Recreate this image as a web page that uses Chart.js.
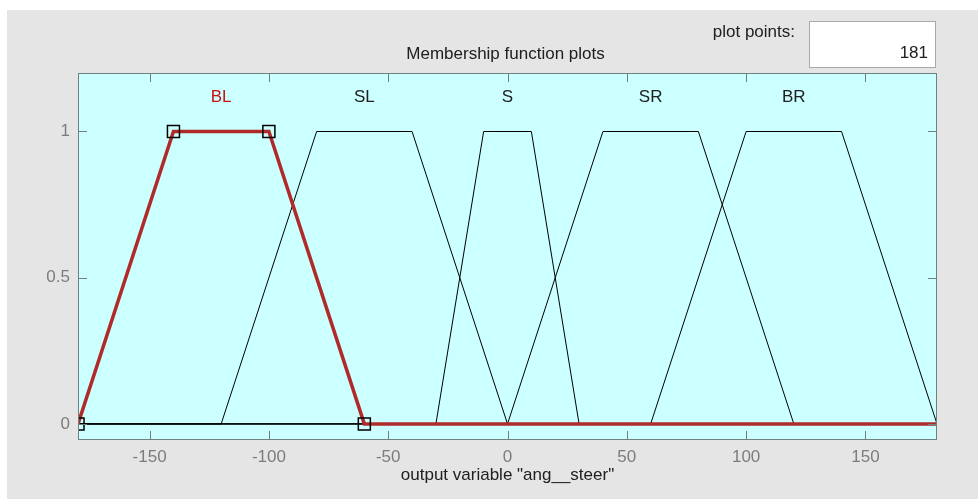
<!DOCTYPE html>
<html>
<head>
<meta charset="utf-8">
<script src="https://cdn.jsdelivr.net/npm/chart.js@4.4.1/dist/chart.umd.min.js"></script>
<style>
html,body{margin:0;padding:0;background:#ffffff;}
#wrap{position:relative;width:978px;height:499px;}
canvas{display:block;}
</style>
</head>
<body>
<div id="wrap"><canvas id="c" width="978" height="499"></canvas></div>
<script>
// ---- data ----
const mfNames = ['BL', 'SL', 'S', 'SR', 'BR'];
const xBL = [-180, -140, -100, -60, 180];
const yBL = [0, 1, 1, 0, 0];
const xSL = [-180, -120, -80, -40, 0, 180];
const ySL = [0, 0, 1, 1, 0, 0];
const xS  = [-180, -30, -10, 10, 30, 180];
const yS  = [0, 0, 1, 1, 0, 0];
const xSR = [-180, 0, 40, 80, 120, 180];
const ySR = [0, 0, 1, 1, 0, 0];
const xBR = [-180, 60, 100, 140, 180];
const yBR = [0, 0, 1, 1, 0];
const xTicks = [-150, -100, -50, 0, 50, 100, 150];
const yTicks = [0, 0.5, 1];
const yTickLabels = ['0', '0.5', '1'];
const plotPoints = '181';
const chartTitle = 'Membership function plots';
const xTitle = 'output variable "ang__steer"';
const selected = 'BL';

const mfX = [xBL, xSL, xS, xSR, xBR];
const mfY = [yBL, ySL, yS, ySR, yBR];

const RED = '#b02a2a';
const FONT = '"Liberation Sans", Arial, sans-serif';

function pts(xs, ys) { return xs.map((x, i) => ({x: x, y: ys[i]})); }

const datasets = mfNames.map((name, i) => {
  const sel = name === selected;
  const n = mfX[i].length;
  return {
    label: name,
    data: pts(mfX[i], mfY[i]),
    showLine: true,
    borderColor: sel ? RED : '#000000',
    borderWidth: sel ? 3.5 : 1,
    pointStyle: 'rect',
    pointRadius: sel ? mfX[i].map((v, k) => (k === n - 1 ? 0 : 8.5)) : 0,
    pointHoverRadius: 0,
    pointBorderColor: '#000000',
    pointBackgroundColor: 'rgba(0,0,0,0)',
    pointBorderWidth: 1.5,
    order: sel ? 0 : 1,
    tension: 0
  };
});

const frame = {
  id: 'frame',
  beforeDraw(chart) {
    const ctx = chart.ctx;
    ctx.save();
    ctx.fillStyle = '#ffffff';
    ctx.fillRect(0, 0, chart.width, chart.height);
    ctx.fillStyle = '#e5e5e5';
    ctx.fillRect(7, 10, chart.width - 7, chart.height - 10);
    const a = chart.chartArea;
    ctx.fillStyle = '#ccffff';
    ctx.fillRect(a.left, a.top, a.right - a.left, a.bottom - a.top);
    // title
    ctx.fillStyle = '#202020';
    ctx.font = '17px ' + FONT;
    ctx.textAlign = 'center';
    ctx.textBaseline = 'middle';
    ctx.fillText(chartTitle, (a.left + a.right) / 2 - 2, 54);
    // plot points
    ctx.textAlign = 'right';
    ctx.fillText('plot points:', 795, 32);
    ctx.fillStyle = '#ffffff';
    ctx.fillRect(809, 21, 127, 47);
    ctx.strokeStyle = '#a9a9a9';
    ctx.lineWidth = 1;
    ctx.strokeRect(809.5, 21.5, 126, 46);
    ctx.fillStyle = '#202020';
    ctx.fillText(plotPoints, 928, 53);
    ctx.restore();
  },
  afterDatasetsDraw(chart) {
    const ctx = chart.ctx;
    const a = chart.chartArea;
    const xs = chart.scales.x, ys = chart.scales.y;
    ctx.save();
    ctx.strokeStyle = '#6f8080';
    ctx.lineWidth = 1;
    ctx.beginPath();
    xTicks.forEach(v => {
      const px = Math.round(xs.getPixelForValue(v)) + 0.5;
      ctx.moveTo(px, a.bottom); ctx.lineTo(px, a.bottom - 9);
      ctx.moveTo(px, a.top); ctx.lineTo(px, a.top + 9);
    });
    yTicks.forEach(v => {
      const py = Math.round(ys.getPixelForValue(v)) + 0.5;
      ctx.moveTo(a.left, py); ctx.lineTo(a.left + 9, py);
      ctx.moveTo(a.right, py); ctx.lineTo(a.right - 9, py);
    });
    ctx.stroke();
    ctx.strokeRect(Math.round(a.left) + 0.5, Math.round(a.top) + 0.5,
                   Math.round(a.right - a.left) - 1, Math.round(a.bottom - a.top) - 1);
    // mf labels at plateau centres
    ctx.font = '17px ' + FONT;
    ctx.textAlign = 'center';
    ctx.textBaseline = 'alphabetic';
    mfNames.forEach((name, i) => {
      const top = mfX[i].filter((x, k) => mfY[i][k] === 1);
      const cx = top.reduce((s, v) => s + v, 0) / top.length;
      ctx.fillStyle = name === selected ? '#cc1111' : '#202020';
      ctx.fillText(name, xs.getPixelForValue(cx), ys.getPixelForValue(1.1));
    });
    ctx.restore();
  }
};

new Chart(document.getElementById('c'), {
  type: 'scatter',
  data: { datasets: datasets },
  options: {
    responsive: false,
    animation: false,
    devicePixelRatio: 1,
    layout: { padding: { top: 73, right: 41, left: 0, bottom: 0 } },
    plugins: { legend: { display: false }, tooltip: { enabled: false }, title: { display: false } },
    scales: {
      x: {
        type: 'linear', min: -180, max: 180,
        grid: { display: false, drawTicks: false },
        border: { display: false },
        afterFit(s) { s.height = 59; },
        afterBuildTicks(s) { s.ticks = xTicks.map(v => ({ value: v })); },
        ticks: { padding: 7, color: '#7c7c7c', font: { family: FONT, size: 17 }, maxRotation: 0, autoSkip: false,
                 callback: v => String(v) },
        title: { display: true, text: xTitle, color: '#202020', font: { family: FONT, size: 17 },
                 padding: { top: 0, bottom: 13 } }
      },
      y: {
        type: 'linear', min: -0.055, max: 1.2,
        grid: { display: false, drawTicks: false },
        border: { display: false },
        afterFit(s) { s.width = 78; },
        afterBuildTicks(s) { s.ticks = yTicks.map(v => ({ value: v })); },
        ticks: { padding: 8, color: '#7c7c7c', font: { family: FONT, size: 17 }, autoSkip: false,
                 callback: (v) => yTickLabels[yTicks.indexOf(v)] }
      }
    }
  },
  plugins: [frame]
});
</script>
</body>
</html>
